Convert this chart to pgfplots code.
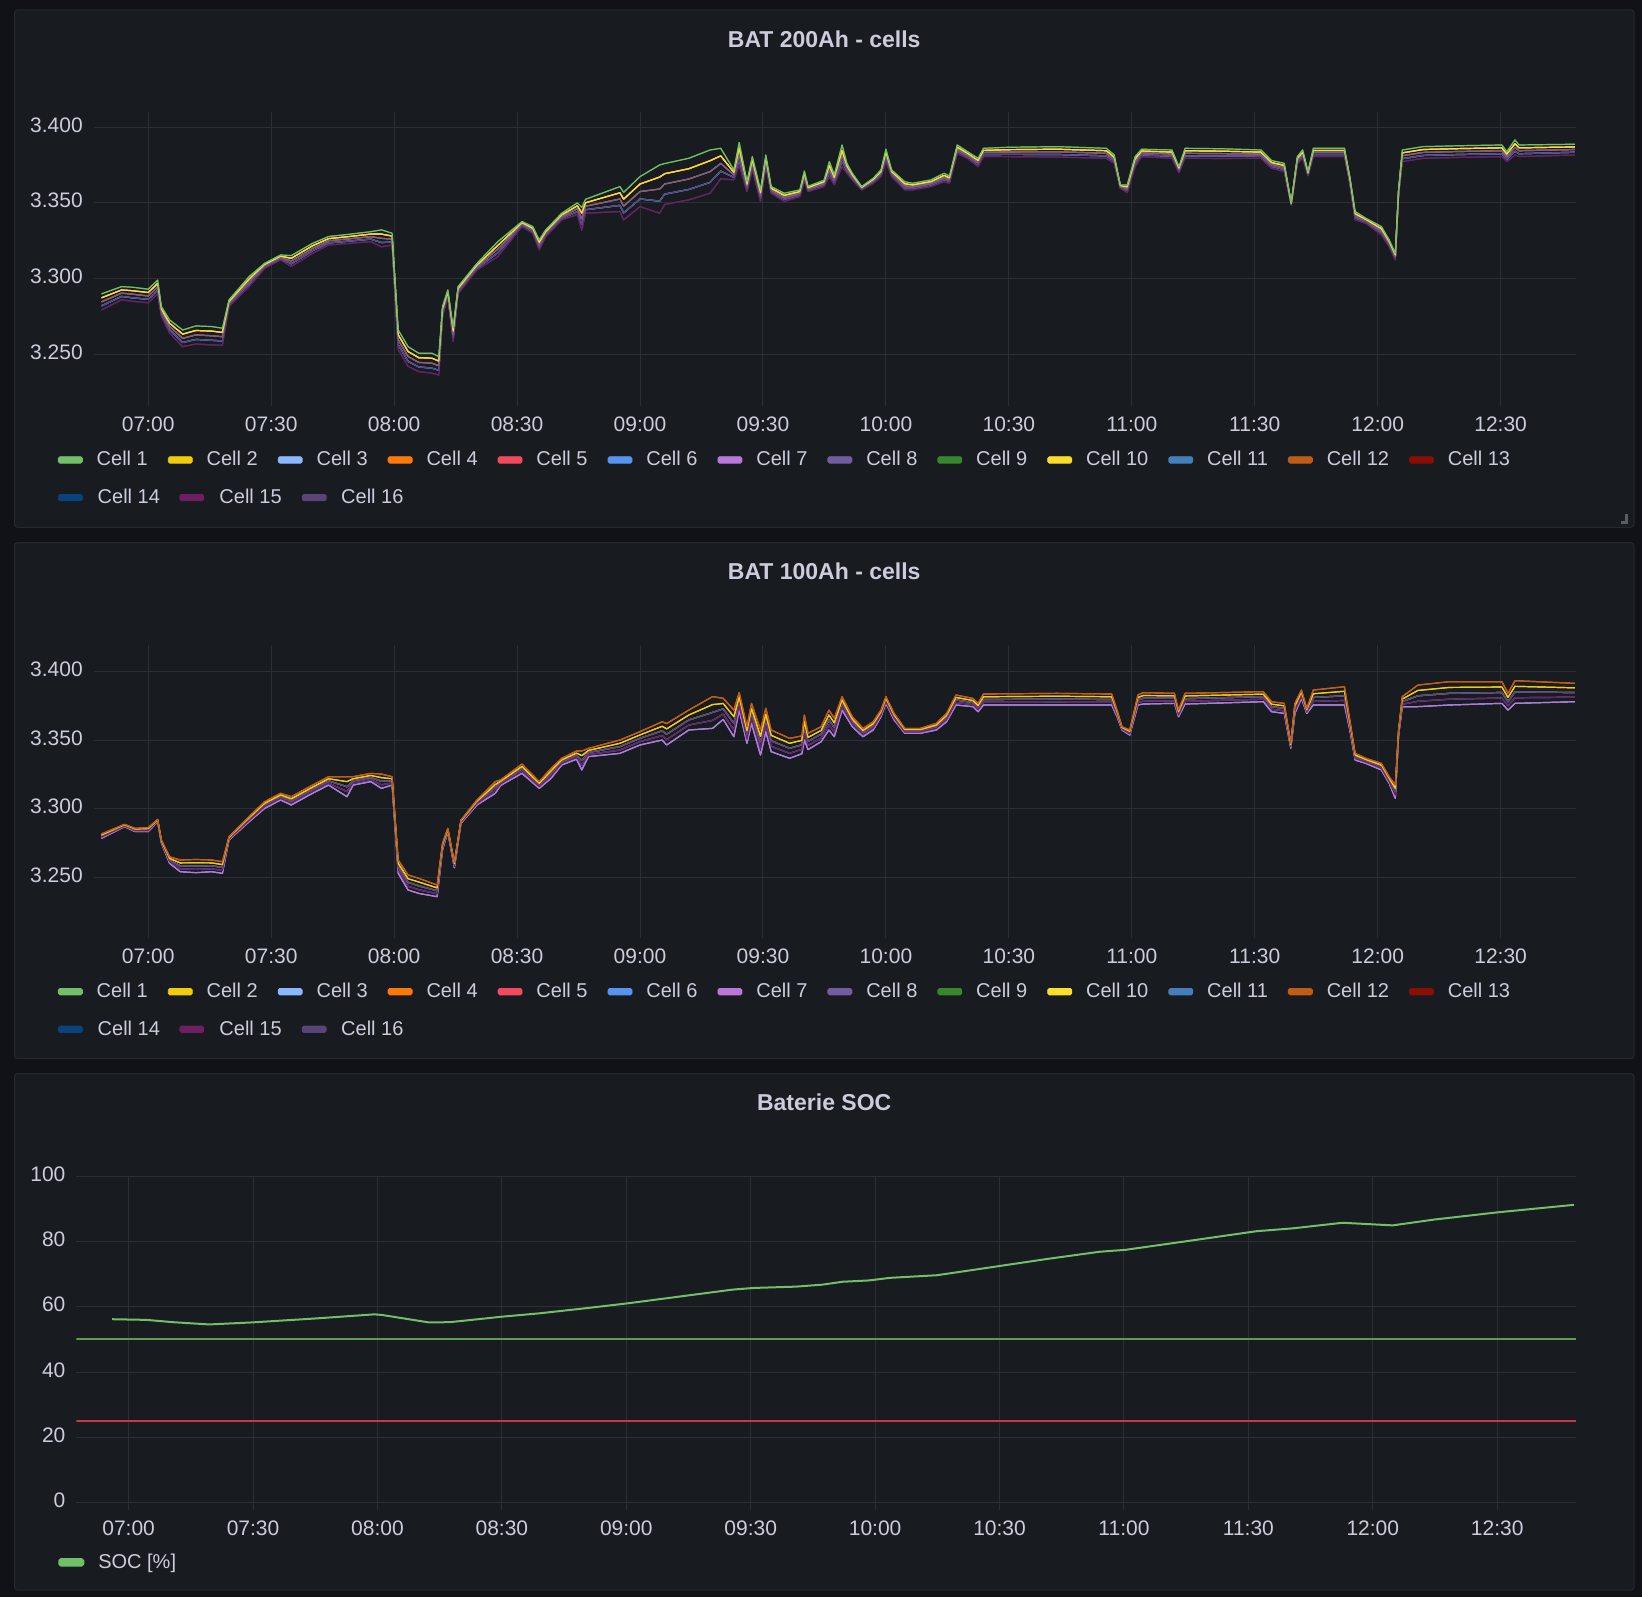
\documentclass[border=0pt]{standalone}
\usepackage{fontspec}
\setmainfont{Liberation Sans}
\usepackage{pgfplots}
\usepackage{pgfplotstable}
\pgfplotsset{compat=1.18}

\definecolor{pagebg}{HTML}{111217}
\definecolor{panelbg}{HTML}{181B1F}
\definecolor{panelbd}{HTML}{25282D}
\definecolor{gridc}{HTML}{2B2E33}
\definecolor{txt}{HTML}{CCCCDC}
\definecolor{handlec}{HTML}{5A5D63}
\definecolor{c1}{HTML}{73BF69}
\definecolor{c2}{HTML}{F2CC0C}
\definecolor{c3}{HTML}{8AB8FF}
\definecolor{c4}{HTML}{FF780A}
\definecolor{c5}{HTML}{F2495C}
\definecolor{c6}{HTML}{5794F2}
\definecolor{c7}{HTML}{B877D9}
\definecolor{c8}{HTML}{705DA0}
\definecolor{c9}{HTML}{37872D}
\definecolor{c10}{HTML}{FADE2A}
\definecolor{c11}{HTML}{447EBC}
\definecolor{c12}{HTML}{C15C17}
\definecolor{c13}{HTML}{890F02}
\definecolor{c14}{HTML}{0A437C}
\definecolor{c15}{HTML}{6D1F62}
\definecolor{c16}{HTML}{584477}
\definecolor{socc}{HTML}{73BF69}
\definecolor{thrgreen}{HTML}{5AA050}
\definecolor{thrred}{HTML}{C8364A}

% BAT 200Ah: time (min after 07:00), five bands of cell voltages (high .. low)
\pgfplotstableread[row sep=\\]{
t a b c d e\\
-11.4 3.2899 3.2873 3.2846 3.2820 3.2793\\
-6.5 3.2947 3.2925 3.2904 3.2882 3.2860\\
-3.9 3.2943 3.2920 3.2897 3.2873 3.2850\\
0 3.2930 3.2908 3.2885 3.2863 3.2840\\
2.3 3.2990 3.2968 3.2945 3.2923 3.2900\\
3.2 3.2815 3.2799 3.2783 3.2766 3.2750\\
5.2 3.2727 3.2705 3.2684 3.2662 3.2640\\
8.4 3.2660 3.2633 3.2605 3.2578 3.2550\\
11.6 3.2687 3.2657 3.2628 3.2598 3.2568\\
15.5 3.2683 3.2653 3.2622 3.2592 3.2561\\
18.1 3.2672 3.2644 3.2616 3.2588 3.2560\\
19.7 3.2859 3.2848 3.2837 3.2826 3.2815\\
24.6 3.3013 3.2997 3.2980 3.2964 3.2947\\
28.4 3.3101 3.3093 3.3085 3.3076 3.3068\\
32.3 3.3156 3.3148 3.3140 3.3131 3.3123\\
34.9 3.3152 3.3134 3.3116 3.3098 3.3080\\
40.1 3.3233 3.3217 3.3200 3.3184 3.3167\\
44 3.3278 3.3264 3.3250 3.3236 3.3222\\
49.1 3.3293 3.3278 3.3263 3.3248 3.3233\\
54.3 3.3310 3.3294 3.3277 3.3261 3.3244\\
56.9 3.3322 3.3294 3.3266 3.3238 3.3210\\
59.5 3.3300 3.3281 3.3261 3.3242 3.3222\\
61 3.2660 3.2628 3.2595 3.2563 3.2530\\
63.4 3.2550 3.2518 3.2485 3.2453 3.2420\\
66 3.2507 3.2477 3.2446 3.2416 3.2385\\
69.2 3.2507 3.2474 3.2441 3.2408 3.2375\\
70.9 3.2485 3.2455 3.2424 3.2394 3.2363\\
71.8 3.2815 3.2799 3.2783 3.2766 3.2750\\
73.1 3.2925 3.2914 3.2903 3.2891 3.2880\\
74.4 3.2675 3.2653 3.2630 3.2608 3.2585\\
75.6 3.2947 3.2935 3.2924 3.2912 3.2900\\
80.2 3.3100 3.3089 3.3079 3.3068 3.3057\\
85.3 3.3244 3.3219 3.3195 3.3170 3.3145\\
91.2 3.3377 3.3369 3.3361 3.3352 3.3344\\
93.8 3.3344 3.3333 3.3322 3.3311 3.3300\\
95.4 3.3256 3.3240 3.3223 3.3207 3.3190\\
97 3.3322 3.3311 3.3300 3.3289 3.3278\\
100.9 3.3432 3.3421 3.3410 3.3399 3.3388\\
104.7 3.3500 3.3481 3.3462 3.3442 3.3423\\
105.8 3.3470 3.3433 3.3395 3.3358 3.3320\\
106.7 3.3524 3.3501 3.3478 3.3455 3.3432\\
115.1 3.3608 3.3567 3.3526 3.3484 3.3443\\
116 3.3570 3.3525 3.3479 3.3434 3.3388\\
120 3.3674 3.3625 3.3575 3.3526 3.3476\\
124.8 3.3751 3.3671 3.3592 3.3512 3.3432\\
126 3.3760 3.3693 3.3625 3.3558 3.3490\\
131.9 3.3795 3.3726 3.3658 3.3589 3.3520\\
137.1 3.3850 3.3779 3.3707 3.3636 3.3564\\
139.7 3.3861 3.3811 3.3761 3.3710 3.3660\\
142.9 3.3718 3.3702 3.3685 3.3669 3.3652\\
144.2 3.3900 3.3863 3.3825 3.3788 3.3750\\
146.1 3.3640 3.3624 3.3608 3.3591 3.3575\\
147.4 3.3806 3.3784 3.3763 3.3742 3.3720\\
149.4 3.3586 3.3567 3.3548 3.3529 3.3510\\
150.7 3.3817 3.3798 3.3779 3.3759 3.3740\\
152 3.3608 3.3597 3.3586 3.3575 3.3564\\
155.2 3.3564 3.3550 3.3537 3.3524 3.3510\\
159 3.3586 3.3575 3.3564 3.3553 3.3542\\
160.1 3.3711 3.3696 3.3681 3.3665 3.3650\\
161 3.3610 3.3601 3.3593 3.3584 3.3575\\
164.9 3.3650 3.3640 3.3629 3.3619 3.3608\\
166.2 3.3773 3.3748 3.3724 3.3699 3.3674\\
167.4 3.3685 3.3669 3.3653 3.3636 3.3620\\
169.3 3.3883 3.3847 3.3812 3.3776 3.3740\\
170.5 3.3760 3.3744 3.3728 3.3712 3.3696\\
171.8 3.3696 3.3685 3.3674 3.3663 3.3652\\
174.1 3.3608 3.3603 3.3597 3.3592 3.3586\\
176.9 3.3663 3.3655 3.3647 3.3638 3.3630\\
178.8 3.3718 3.3707 3.3696 3.3685 3.3674\\
180 3.3855 3.3835 3.3814 3.3794 3.3773\\
181.4 3.3718 3.3707 3.3696 3.3685 3.3674\\
184.6 3.3640 3.3627 3.3613 3.3600 3.3586\\
186.5 3.3630 3.3619 3.3608 3.3597 3.3586\\
191 3.3652 3.3641 3.3630 3.3619 3.3608\\
194.2 3.3696 3.3682 3.3668 3.3654 3.3640\\
195.5 3.3678 3.3666 3.3654 3.3642 3.3630\\
197.4 3.3883 3.3869 3.3856 3.3842 3.3828\\
199.9 3.3839 3.3828 3.3817 3.3806 3.3795\\
202.5 3.3795 3.3781 3.3768 3.3754 3.3740\\
203.8 3.3861 3.3847 3.3834 3.3820 3.3806\\
210 3.3868 3.3852 3.3837 3.3821 3.3806\\
222 3.3872 3.3855 3.3838 3.3820 3.3803\\
233.8 3.3861 3.3845 3.3828 3.3811 3.3795\\
235.7 3.3817 3.3803 3.3790 3.3776 3.3762\\
237.2 3.3619 3.3614 3.3608 3.3603 3.3597\\
238.9 3.3619 3.3606 3.3594 3.3581 3.3568\\
240.8 3.3806 3.3790 3.3773 3.3756 3.3740\\
242.4 3.3855 3.3843 3.3831 3.3818 3.3806\\
249.8 3.3850 3.3836 3.3823 3.3809 3.3795\\
251.5 3.3740 3.3730 3.3720 3.3710 3.3700\\
253 3.3861 3.3845 3.3828 3.3811 3.3795\\
262 3.3858 3.3842 3.3826 3.3810 3.3794\\
271.5 3.3850 3.3836 3.3823 3.3809 3.3795\\
274.1 3.3780 3.3767 3.3755 3.3742 3.3729\\
277.2 3.3762 3.3748 3.3735 3.3721 3.3707\\
278.9 3.3500 3.3497 3.3494 3.3490 3.3487\\
280.4 3.3806 3.3795 3.3784 3.3773 3.3762\\
281.7 3.3850 3.3836 3.3823 3.3809 3.3795\\
283 3.3707 3.3700 3.3694 3.3687 3.3680\\
284.3 3.3861 3.3847 3.3834 3.3820 3.3806\\
291.9 3.3861 3.3847 3.3834 3.3820 3.3806\\
293.2 3.3674 3.3663 3.3652 3.3641 3.3630\\
294.5 3.3443 3.3429 3.3416 3.3402 3.3388\\
297.1 3.3399 3.3391 3.3383 3.3374 3.3366\\
300.9 3.3344 3.3330 3.3317 3.3303 3.3289\\
302.8 3.3256 3.3245 3.3234 3.3223 3.3212\\
304.3 3.3167 3.3156 3.3145 3.3134 3.3123\\
305.1 3.3586 3.3577 3.3568 3.3559 3.3550\\
306 3.3850 3.3831 3.3812 3.3792 3.3773\\
311.1 3.3872 3.3853 3.3834 3.3814 3.3795\\
320 3.3878 3.3859 3.3840 3.3820 3.3801\\
330.3 3.3883 3.3864 3.3845 3.3825 3.3806\\
331.5 3.3839 3.3823 3.3806 3.3789 3.3773\\
333.5 3.3916 3.3891 3.3867 3.3842 3.3817\\
334.5 3.3883 3.3864 3.3845 3.3825 3.3806\\
348.1 3.3888 3.3870 3.3853 3.3835 3.3817\\
}\topdata

% BAT 100Ah
\pgfplotstableread[row sep=\\]{
t a b c d e\\
-11.4 3.2816 3.2808 3.2800 3.2792 3.2784\\
-5.8 3.2886 3.2882 3.2878 3.2873 3.2869\\
-3.2 3.2857 3.2851 3.2845 3.2839 3.2833\\
0 3.2862 3.2855 3.2848 3.2840 3.2833\\
2.3 3.2922 3.2918 3.2914 3.2909 3.2905\\
3.2 3.2772 3.2766 3.2761 3.2755 3.2750\\
5.2 3.2650 3.2638 3.2626 3.2614 3.2602\\
7.8 3.2626 3.2605 3.2584 3.2562 3.2541\\
11.6 3.2630 3.2606 3.2582 3.2558 3.2534\\
15.5 3.2626 3.2605 3.2584 3.2562 3.2541\\
18.1 3.2614 3.2593 3.2572 3.2550 3.2529\\
19.7 3.2796 3.2790 3.2784 3.2778 3.2772\\
24.6 3.2942 3.2933 3.2924 3.2914 3.2905\\
28.4 3.3051 3.3039 3.3027 3.3014 3.3002\\
32.3 3.3112 3.3100 3.3088 3.3075 3.3063\\
34.9 3.3087 3.3072 3.3057 3.3042 3.3027\\
40.1 3.3172 3.3157 3.3142 3.3127 3.3112\\
44 3.3233 3.3218 3.3203 3.3187 3.3172\\
48.5 3.3233 3.3197 3.3160 3.3124 3.3087\\
50 3.3233 3.3218 3.3203 3.3187 3.3172\\
54.3 3.3257 3.3242 3.3227 3.3212 3.3197\\
56.9 3.3252 3.3226 3.3200 3.3174 3.3148\\
59.5 3.3233 3.3218 3.3203 3.3187 3.3172\\
61 3.2626 3.2602 3.2578 3.2553 3.2529\\
63.4 3.2517 3.2490 3.2463 3.2435 3.2408\\
66 3.2493 3.2466 3.2438 3.2410 3.2383\\
70.5 3.2444 3.2423 3.2402 3.2380 3.2359\\
71.8 3.2748 3.2736 3.2724 3.2712 3.2700\\
73.1 3.2857 3.2850 3.2844 3.2837 3.2830\\
74.7 3.2610 3.2600 3.2590 3.2580 3.2570\\
76.3 3.2917 3.2911 3.2905 3.2899 3.2893\\
80.2 3.3063 3.3054 3.3045 3.3036 3.3027\\
84.7 3.3197 3.3176 3.3155 3.3133 3.3112\\
86 3.3210 3.3200 3.3190 3.3180 3.3170\\
91.2 3.3325 3.3308 3.3291 3.3274 3.3257\\
95.4 3.3197 3.3185 3.3173 3.3160 3.3148\\
98.3 3.3294 3.3276 3.3258 3.3239 3.3221\\
100.9 3.3367 3.3355 3.3343 3.3330 3.3318\\
104.5 3.3420 3.3405 3.3390 3.3375 3.3360\\
105.8 3.3420 3.3386 3.3351 3.3317 3.3282\\
107.4 3.3439 3.3424 3.3409 3.3394 3.3379\\
115.1 3.3500 3.3476 3.3452 3.3427 3.3403\\
120 3.3561 3.3537 3.3513 3.3488 3.3464\\
125.4 3.3633 3.3600 3.3567 3.3533 3.3500\\
126.5 3.3620 3.3581 3.3542 3.3503 3.3464\\
131.9 3.3718 3.3682 3.3646 3.3609 3.3573\\
137.7 3.3816 3.3758 3.3701 3.3643 3.3585\\
140.3 3.3804 3.3766 3.3727 3.3689 3.3650\\
142.9 3.3718 3.3670 3.3621 3.3573 3.3524\\
144.2 3.3845 3.3813 3.3782 3.3750 3.3718\\
146.1 3.3597 3.3567 3.3537 3.3506 3.3476\\
147.2 3.3767 3.3730 3.3694 3.3657 3.3620\\
149.4 3.3573 3.3528 3.3482 3.3437 3.3391\\
150.7 3.3731 3.3688 3.3646 3.3603 3.3560\\
152 3.3573 3.3534 3.3494 3.3455 3.3415\\
156.5 3.3512 3.3476 3.3440 3.3403 3.3367\\
159.5 3.3530 3.3498 3.3465 3.3433 3.3400\\
160.1 3.3682 3.3637 3.3591 3.3546 3.3500\\
161 3.3549 3.3519 3.3490 3.3460 3.3430\\
164.2 3.3597 3.3570 3.3543 3.3515 3.3488\\
166.1 3.3718 3.3682 3.3646 3.3609 3.3573\\
167.4 3.3658 3.3625 3.3591 3.3558 3.3524\\
169.3 3.3816 3.3792 3.3767 3.3743 3.3718\\
171.8 3.3670 3.3652 3.3634 3.3615 3.3597\\
174.4 3.3585 3.3570 3.3555 3.3539 3.3524\\
176.9 3.3633 3.3618 3.3603 3.3588 3.3573\\
178.8 3.3718 3.3706 3.3694 3.3682 3.3670\\
180 3.3816 3.3804 3.3792 3.3779 3.3767\\
182 3.3694 3.3682 3.3670 3.3658 3.3646\\
184.6 3.3585 3.3576 3.3567 3.3558 3.3549\\
188.4 3.3585 3.3576 3.3567 3.3558 3.3549\\
192.3 3.3621 3.3609 3.3597 3.3585 3.3573\\
194.8 3.3694 3.3679 3.3664 3.3648 3.3633\\
197.1 3.3828 3.3810 3.3792 3.3773 3.3755\\
201.2 3.3803 3.3788 3.3773 3.3758 3.3743\\
202.5 3.3767 3.3752 3.3737 3.3721 3.3706\\
203.8 3.3835 3.3815 3.3795 3.3775 3.3755\\
221.7 3.3840 3.3819 3.3798 3.3776 3.3755\\
235.1 3.3835 3.3815 3.3795 3.3775 3.3755\\
236.4 3.3718 3.3706 3.3694 3.3682 3.3670\\
237.6 3.3597 3.3591 3.3585 3.3579 3.3573\\
239.5 3.3573 3.3564 3.3555 3.3545 3.3536\\
241.5 3.3828 3.3810 3.3792 3.3773 3.3755\\
242.8 3.3845 3.3824 3.3804 3.3783 3.3762\\
250.4 3.3840 3.3822 3.3804 3.3785 3.3767\\
251.4 3.3718 3.3706 3.3694 3.3682 3.3670\\
253 3.3840 3.3821 3.3801 3.3782 3.3762\\
272.1 3.3852 3.3834 3.3816 3.3797 3.3779\\
274.1 3.3779 3.3761 3.3743 3.3724 3.3706\\
277.2 3.3767 3.3749 3.3731 3.3712 3.3694\\
278.8 3.3476 3.3467 3.3458 3.3449 3.3440\\
279.8 3.3767 3.3749 3.3731 3.3712 3.3694\\
281.4 3.3864 3.3849 3.3834 3.3818 3.3803\\
282.7 3.3730 3.3721 3.3712 3.3703 3.3694\\
284.3 3.3864 3.3837 3.3810 3.3782 3.3755\\
291.9 3.3888 3.3855 3.3822 3.3788 3.3755\\
293.2 3.3646 3.3628 3.3610 3.3591 3.3573\\
294.5 3.3403 3.3391 3.3379 3.3366 3.3354\\
297.1 3.3367 3.3358 3.3349 3.3339 3.3330\\
300.9 3.3330 3.3318 3.3306 3.3294 3.3282\\
302.8 3.3233 3.3221 3.3209 3.3197 3.3185\\
304.3 3.3172 3.3148 3.3124 3.3099 3.3075\\
305.1 3.3573 3.3562 3.3552 3.3541 3.3530\\
306 3.3816 3.3798 3.3780 3.3761 3.3743\\
309.8 3.3900 3.3861 3.3822 3.3782 3.3743\\
317.5 3.3925 3.3883 3.3840 3.3797 3.3755\\
330.3 3.3925 3.3886 3.3846 3.3806 3.3767\\
331.8 3.3840 3.3810 3.3779 3.3749 3.3718\\
333.5 3.3932 3.3891 3.3850 3.3808 3.3767\\
348.1 3.3913 3.3880 3.3846 3.3812 3.3779\\
}\middata

% Battery SOC [%]
\pgfplotstableread[row sep=\\]{
t soc\\
-4.0 56.2\\
4.3 56.0\\
10.6 55.3\\
19.4 54.6\\
29.5 55.2\\
44.7 56.4\\
59.3 57.7\\
61.1 57.5\\
72.5 55.2\\
77.5 55.3\\
90.2 57.0\\
99 58.0\\
110.4 59.6\\
120.5 61.1\\
133.1 63.2\\
145.7 65.3\\
150.8 65.8\\
160.9 66.2\\
167.2 66.8\\
172.2 67.7\\
178.5 68.1\\
183.6 68.9\\
194.9 69.7\\
208.8 72.3\\
221.5 74.7\\
234.1 76.9\\
240.4 77.5\\
254.3 80.0\\
271.9 83.2\\
280.8 84.1\\
292.7 85.8\\
304.8 85.0\\
314.9 86.8\\
330.1 89.0\\
348.5 91.3\\
}\socdata

\pgfplotsset{
  gbase/.style={
    scale only axis,
    axis line style={draw=none},
    tick style={draw=none},
    major tick length=0pt,
    grid=major,
    major grid style={draw=gridc, line width=0.5pt},
    xtick={0,30,...,330},
    xticklabels={07:00,07:30,08:00,08:30,09:00,09:30,10:00,10:30,11:00,11:30,12:00,12:30},
    tick label style={font=\fontsize{10.5}{12}\selectfont, text=txt, inner sep=0pt},
    xticklabel style={anchor=base, yshift=-12.75pt},
    yticklabel style={anchor=east, xshift=-5.3pt, yshift=1.1pt},
    legend image code/.code={\fill[rounded corners=0.8pt] (0pt,-1.6pt) rectangle (12pt,1.6pt);},
    legend style={draw=none, fill=none, inner sep=0pt, outer sep=0pt,
      text=txt, font=\fontsize{10}{12}\selectfont,
      column sep=0pt, row sep=10.1pt, nodes={inner sep=0pt},
      /tikz/every odd column/.append style={column sep=7pt},
      /tikz/every even column/.append style={column sep=10pt},
      anchor=north west},
    legend cell align=left,
  },
  cellplot/.style={line width=0.6pt, line join=round, forget plot},
  celllegend/.style={
    legend columns=13,
  },
}

\newcommand{\celllegend}{%
  \addlegendimage{color=c1}\addlegendentry{Cell 1}
  \addlegendimage{color=c2}\addlegendentry{Cell 2}
  \addlegendimage{color=c3}\addlegendentry{Cell 3}
  \addlegendimage{color=c4}\addlegendentry{Cell 4}
  \addlegendimage{color=c5}\addlegendentry{Cell 5}
  \addlegendimage{color=c6}\addlegendentry{Cell 6}
  \addlegendimage{color=c7}\addlegendentry{Cell 7}
  \addlegendimage{color=c8}\addlegendentry{Cell 8}
  \addlegendimage{color=c9}\addlegendentry{Cell 9}
  \addlegendimage{color=c10}\addlegendentry{Cell 10}
  \addlegendimage{color=c11}\addlegendentry{Cell 11}
  \addlegendimage{color=c12}\addlegendentry{Cell 12}
  \addlegendimage{color=c13}\addlegendentry{Cell 13}
  \addlegendimage{color=c14}\addlegendentry{\makebox[0pt][l]{Cell 14}}
  \addlegendimage{color=c15, legend image code/.code={\path[draw=none, fill=none] (0pt,-1.6pt) rectangle (12pt,1.6pt); \fill[overlay, rounded corners=0.8pt] (5.75pt,-1.6pt) rectangle (17.75pt,1.6pt);}}\addlegendentry{\makebox[0pt][l]{\hspace{5.9pt}Cell 15}}
  \addlegendimage{color=c16, legend image code/.code={\path[draw=none, fill=none] (0pt,-1.6pt) rectangle (12pt,1.6pt); \fill[overlay, rounded corners=0.8pt] (12pt,-1.6pt) rectangle (24pt,1.6pt);}}\addlegendentry{\makebox[0pt][l]{\hspace{11.8pt}Cell 16}}
}

\begin{document}
\begin{tikzpicture}
% background and panels
\fill[pagebg] (0pt,0pt) rectangle (821pt,798.5pt);
\filldraw[fill=panelbg, draw=panelbd, line width=0.5pt, rounded corners=1.5pt] (7.25pt,534.85pt) rectangle (817pt,793.5pt);
\filldraw[fill=panelbg, draw=panelbd, line width=0.5pt, rounded corners=1.5pt] (7.25pt,269.15pt) rectangle (817pt,527.15pt);
\filldraw[fill=panelbg, draw=panelbd, line width=0.5pt, rounded corners=1.5pt] (7.25pt,3.5pt) rectangle (817pt,261.65pt);
\draw[handlec, line width=1.3pt] (810.65pt,537.15pt) -- (813.2pt,537.15pt) -- (813.2pt,541.35pt);
% titles
\node[text=txt, font=\fontsize{11.5}{13}\selectfont\bfseries] at (412.1pt,779.1pt) {BAT 200Ah - cells};
\node[text=txt, font=\fontsize{11.5}{13}\selectfont\bfseries] at (412.1pt,513.0pt) {BAT 100Ah - cells};
\node[text=txt, font=\fontsize{11.5}{13}\selectfont\bfseries] at (412.1pt,247.3pt) {Baterie SOC};

% ---------- BAT 200Ah ----------
\begin{axis}[gbase, celllegend,
  at={(46.875pt,595.5pt)}, anchor=south west,
  width=741.125pt, height=146.85pt,
  xmin=-13.3, xmax=348.4, ymin=3.2158, ymax=3.4099,
  ytick={3.25,3.30,3.35,3.40}, yticklabels={3.250,3.300,3.350,3.400},
  legend style={at={(0,0)}, xshift=-17.9pt, yshift=-22.6pt},
]
\celllegend
\addplot[cellplot, color=c13] table[x=t, y=e]{\topdata};
\addplot[cellplot, color=c14] table[x=t, y=e]{\topdata};
\addplot[cellplot, color=c3] table[x=t, y=d]{\topdata};
\addplot[cellplot, color=c6] table[x=t, y=d]{\topdata};
\addplot[cellplot, color=c11] table[x=t, y=d]{\topdata};
\addplot[cellplot, color=c4] table[x=t, y=c]{\topdata};
\addplot[cellplot, color=c12] table[x=t, y=c]{\topdata};
\addplot[cellplot, color=c5] table[x=t, y=b]{\topdata};
\addplot[cellplot, color=c7] table[x=t, y=b]{\topdata};
\addplot[cellplot, color=c2] table[x=t, y=b]{\topdata};
\addplot[cellplot, color=c9] table[x=t, y=a]{\topdata};
\addplot[cellplot, color=c15] table[x=t, y=e]{\topdata};
\addplot[cellplot, color=c16] table[x=t, y=d]{\topdata};
\addplot[cellplot, color=c8] table[x=t, y=c]{\topdata};
\addplot[cellplot, color=c10] table[x=t, y=b]{\topdata};
\addplot[cellplot, color=c1] table[x=t, y=a]{\topdata};
\end{axis}

% ---------- BAT 100Ah ----------
\begin{axis}[gbase, celllegend,
  at={(46.875pt,329.35pt)}, anchor=south west,
  width=741.125pt, height=146.65pt,
  xmin=-13.3, xmax=348.4, ymin=3.2056, ymax=3.4192,
  ytick={3.25,3.30,3.35,3.40}, yticklabels={3.250,3.300,3.350,3.400},
  legend style={at={(0,0)}, xshift=-17.9pt, yshift=-22.3pt},
]
\celllegend
\addplot[cellplot, color=c11] table[x=t, y=d]{\middata};
\addplot[cellplot, color=c14] table[x=t, y=d]{\middata};
\addplot[cellplot, color=c8] table[x=t, y=d]{\middata};
\addplot[cellplot, color=c1] table[x=t, y=c]{\middata};
\addplot[cellplot, color=c5] table[x=t, y=c]{\middata};
\addplot[cellplot, color=c9] table[x=t, y=c]{\middata};
\addplot[cellplot, color=c13] table[x=t, y=c]{\middata};
\addplot[cellplot, color=c6] table[x=t, y=c]{\middata};
\addplot[cellplot, color=c10] table[x=t, y=b]{\middata};
\addplot[cellplot, color=c4] table[x=t, y=a]{\middata};
\addplot[cellplot, color=c3] table[x=t, y=e]{\middata};
\addplot[cellplot, color=c7] table[x=t, y=e]{\middata};
\addplot[cellplot, color=c15] table[x=t, y=d]{\middata};
\addplot[cellplot, color=c16] table[x=t, y=c]{\middata};
\addplot[cellplot, color=c2] table[x=t, y=b]{\middata};
\addplot[cellplot, color=c12] table[x=t, y=a]{\middata};
\end{axis}

% ---------- SOC ----------
\begin{axis}[gbase,
  at={(38.2pt,43.5pt)}, anchor=south west,
  width=749.8pt, height=167pt,
  xmin=-12.6, xmax=349.0, ymin=-2.35, ymax=100.15,
  ytick={0,20,40,60,80,100}, yticklabels={0,20,40,60,80,100},
  legend columns=1,
  legend style={at={(0,0)}, xshift=-9.05pt, yshift=-21.8pt},
]
\addplot[color=thrgreen, line width=1pt, forget plot] coordinates {(-12.6,50) (349.0,50)};
\addplot[color=thrred, line width=1pt, forget plot] coordinates {(-12.6,25) (349.0,25)};
\addplot[color=socc, line width=1pt, line join=round] table[x=t, y=soc]{\socdata};
\addlegendentry{SOC [\%]}
\end{axis}

\pgfresetboundingbox
\path[use as bounding box] (0pt,0pt) rectangle (821pt,798.5pt);
\end{tikzpicture}
\end{document}
